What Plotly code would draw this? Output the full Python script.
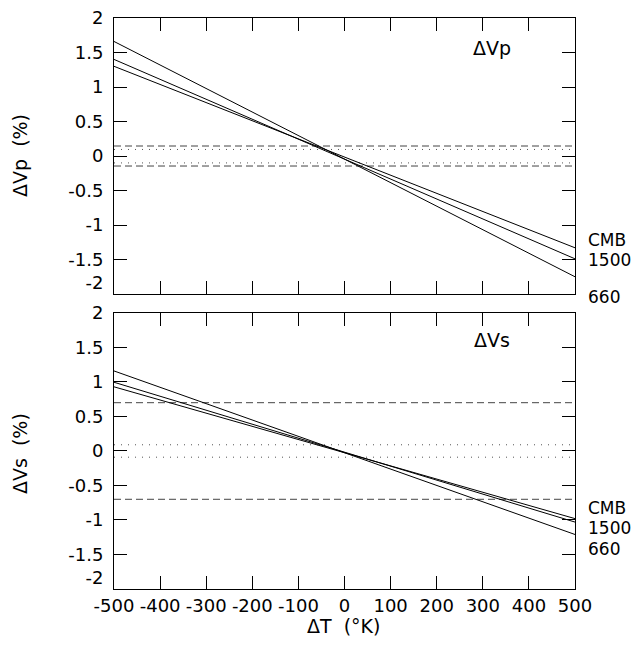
import plotly.graph_objects as go

# ---- data ----
x_ends = [-500, 500]
names = ["CMB", "1500", "660"]
vp_ends = {"CMB": [1.30, -1.33], "1500": [1.40, -1.49], "660": [1.66, -1.75]}
vs_ends = {"CMB": [0.93, -0.98], "1500": [0.996, -1.03], "660": [1.16, -1.21]}
vp_dashed = [0.145, -0.145]
vp_dotted = [0.095, -0.10]
vs_dashed = [0.70, -0.70]
vs_dotted = [0.09, -0.09]
vp_label_y = {"CMB": -1.21, "1500": -1.50, "660": -2.04}
vs_label_y = {"CMB": -0.83, "1500": -1.11, "660": -1.42}
ytick_vals = [-2, -1.5, -1, -0.5, 0, 0.5, 1, 1.5, 2]
ytick_text = ["-2<br> ", "-1.5", "-1", "-0.5", "0", "0.5", "1", "1.5", "2"]
xtick_vals = [-500, -400, -300, -200, -100, 0, 100, 200, 300, 400, 500]
xtick_text = ["-500", "-400", "-300", "-200", "-100", "0", "100", "200", "300", "400", "500"]

FONT = "DejaVu Sans"
fig = go.Figure()

def add_panel(ends, dashed, dotted, xa, ya):
    for lv in dashed:
        fig.add_trace(go.Scatter(x=x_ends, y=[lv, lv], mode="lines", xaxis=xa, yaxis=ya,
                                 line=dict(color="#444", width=1, dash="7px,4px"), showlegend=False))
    for lv in dotted:
        fig.add_trace(go.Scatter(x=x_ends, y=[lv, lv], mode="lines", xaxis=xa, yaxis=ya,
                                 line=dict(color="#555", width=1, dash="1px,6px"), showlegend=False))
    for n in names:
        fig.add_trace(go.Scatter(x=x_ends, y=ends[n], mode="lines", xaxis=xa, yaxis=ya,
                                 line=dict(color="black", width=1), showlegend=False))

add_panel(vp_ends, vp_dashed, vp_dotted, "x2", "y2")
add_panel(vs_ends, vs_dashed, vs_dotted, "x", "y")

axis_common = dict(showline=True, linecolor="black", linewidth=1, mirror="ticks",
                   ticks="inside", ticklen=13, tickcolor="black", showgrid=False,
                   zeroline=False, automargin=False, ticklabeloverflow="allow",
                   tickfont=dict(family=FONT, size=18, color="black"))

# figure sized to compensate for the 8px page margin around the plot div
fig.update_layout(
    template="none",
    width=636, height=632,
    margin=dict(l=106, r=69, t=10, b=51, autoexpand=False),
    paper_bgcolor="white", plot_bgcolor="white",
    showlegend=False,
    xaxis=dict(domain=[0, 1], range=[-500, 500], tickvals=xtick_vals, ticktext=xtick_text,
               anchor="y", **axis_common),
    yaxis=dict(domain=[0, 0.4834], range=[-2, 2], tickvals=ytick_vals, ticktext=ytick_text,
               anchor="x", ticklabelstandoff=6, **axis_common),
    xaxis2=dict(domain=[0, 1], range=[-500, 500], tickvals=xtick_vals, showticklabels=False,
                anchor="y2", **axis_common),
    yaxis2=dict(domain=[0.5166, 1], range=[-2, 2], tickvals=ytick_vals, ticktext=ytick_text,
                anchor="x2", ticklabelstandoff=6, **axis_common),
)

ann_font = dict(family=FONT, size=19, color="black")
lab_font = dict(family=FONT, size=17, color="black")
C = dict(xanchor="center", yanchor="middle", showarrow=False)
anns = [
    dict(x=320, y=1.57, xref="x2", yref="y2", text="ΔVp", font=ann_font, **C),
    dict(x=320, y=1.61, xref="x", yref="y", text="ΔVs", font=ann_font, **C),
    dict(x=-0.204, y=0.760, xref="paper", yref="paper", text="ΔVp  (%)", textangle=-90,
         font=ann_font, **C),
    dict(x=-0.204, y=0.238, xref="paper", yref="paper", text="ΔVs  (%)", textangle=-90,
         font=ann_font, **C),
    dict(x=0.497, y=-0.0876, xref="paper", yref="paper", text="ΔT  (°K)", font=ann_font,
         xanchor="center", yanchor="bottom", showarrow=False),
]
L = dict(xanchor="left", yanchor="middle", showarrow=False, xshift=11)
for n in names:
    if -2 <= vp_label_y[n] <= 2:
        anns.append(dict(x=500, y=vp_label_y[n], xref="x2", yref="y2", text=n, font=lab_font, **L))
    else:
        anns.append(dict(x=500, y=(vp_label_y[n] + 2) / 4, xref="x2", yref="y2 domain", text=n,
                         font=lab_font, **L))
    anns.append(dict(x=500, y=vs_label_y[n], xref="x", yref="y", text=n, font=lab_font, **L))
fig.update_layout(annotations=anns)

fig.write_html("out.html")
